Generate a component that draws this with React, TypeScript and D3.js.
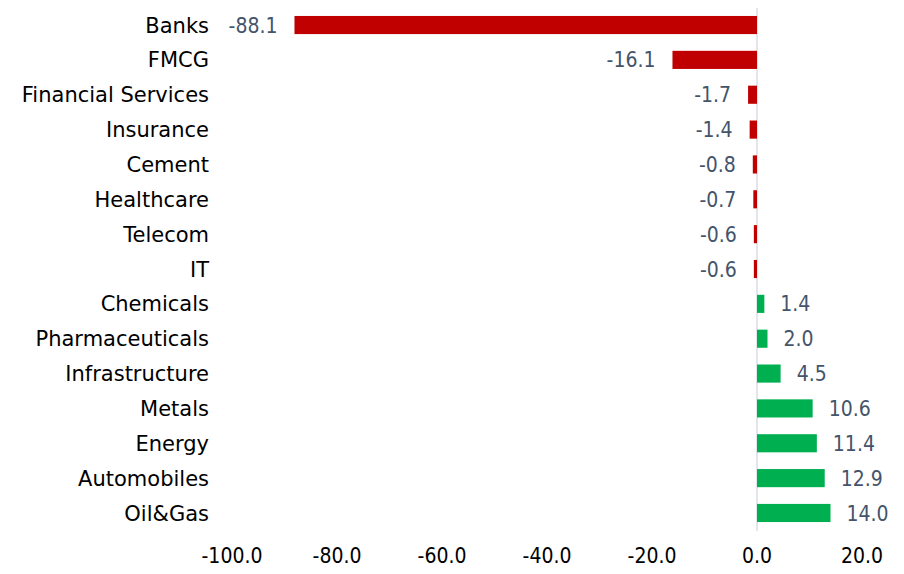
import React from "react";
import * as d3 from "d3";

const categories = [
  "Banks", "FMCG", "Financial Services", "Insurance", "Cement", "Healthcare", "Telecom", "IT",
  "Chemicals", "Pharmaceuticals", "Infrastructure", "Metals", "Energy", "Automobiles", "Oil&Gas",
];
const values = [-88.1, -16.1, -1.7, -1.4, -0.8, -0.7, -0.6, -0.6, 1.4, 2.0, 4.5, 10.6, 11.4, 12.9, 14.0];
const xTicks = [-100, -80, -60, -40, -20, 0, 20];

const LABEL_FONT = "'DejaVu Sans', sans-serif";
const NUM_FONT = "'DejaVu Sans Condensed', 'DejaVu Sans', sans-serif";

const fmt = (v: number) => v.toFixed(1);

export default function App() {
  const width = 904, height = 574;
  const x = d3.scaleLinear().domain([-100, 20]).range([232, 862]);
  const y = d3.scaleBand().domain(categories).range([7.6, 530.4]).paddingInner(0.48).paddingOuter(0.24);

  return (
    <svg width={width} height={height} style={{ position: "absolute", left: 0, top: 0, background: "#fff" }}>
      <line x1={x(0)} x2={x(0)} y1={8} y2={531} stroke="#D9DEE6" strokeWidth={1.5} />
      {categories.map((c, i) => {
        const v = values[i];
        const yc = (y(c) as number) + y.bandwidth() / 2;
        const x0 = x(Math.min(0, v));
        const x1 = x(Math.max(0, v));
        return (
          <g key={c}>
            <rect x={x0} y={y(c)} width={x1 - x0} height={y.bandwidth()} fill={v < 0 ? "#C00000" : "#00B050"} />
            <text x={209} y={yc} dy="0.36em" textAnchor="end" fontFamily={LABEL_FONT} fontSize={21} fill="#000">{c}</text>
            <text
              x={v < 0 ? x0 - 17 : x1 + 16}
              y={yc}
              dy="0.36em"
              textAnchor={v < 0 ? "end" : "start"}
              fontFamily={NUM_FONT}
              fontSize={21}
              fill="#44546A"
            >
              {fmt(v)}
            </text>
          </g>
        );
      })}
      {xTicks.map((t) => (
        <text key={t} x={x(t)} y={555} dy="0.36em" textAnchor="middle" fontFamily={NUM_FONT} fontSize={21} fill="#000">
          {fmt(t)}
        </text>
      ))}
    </svg>
  );
}
